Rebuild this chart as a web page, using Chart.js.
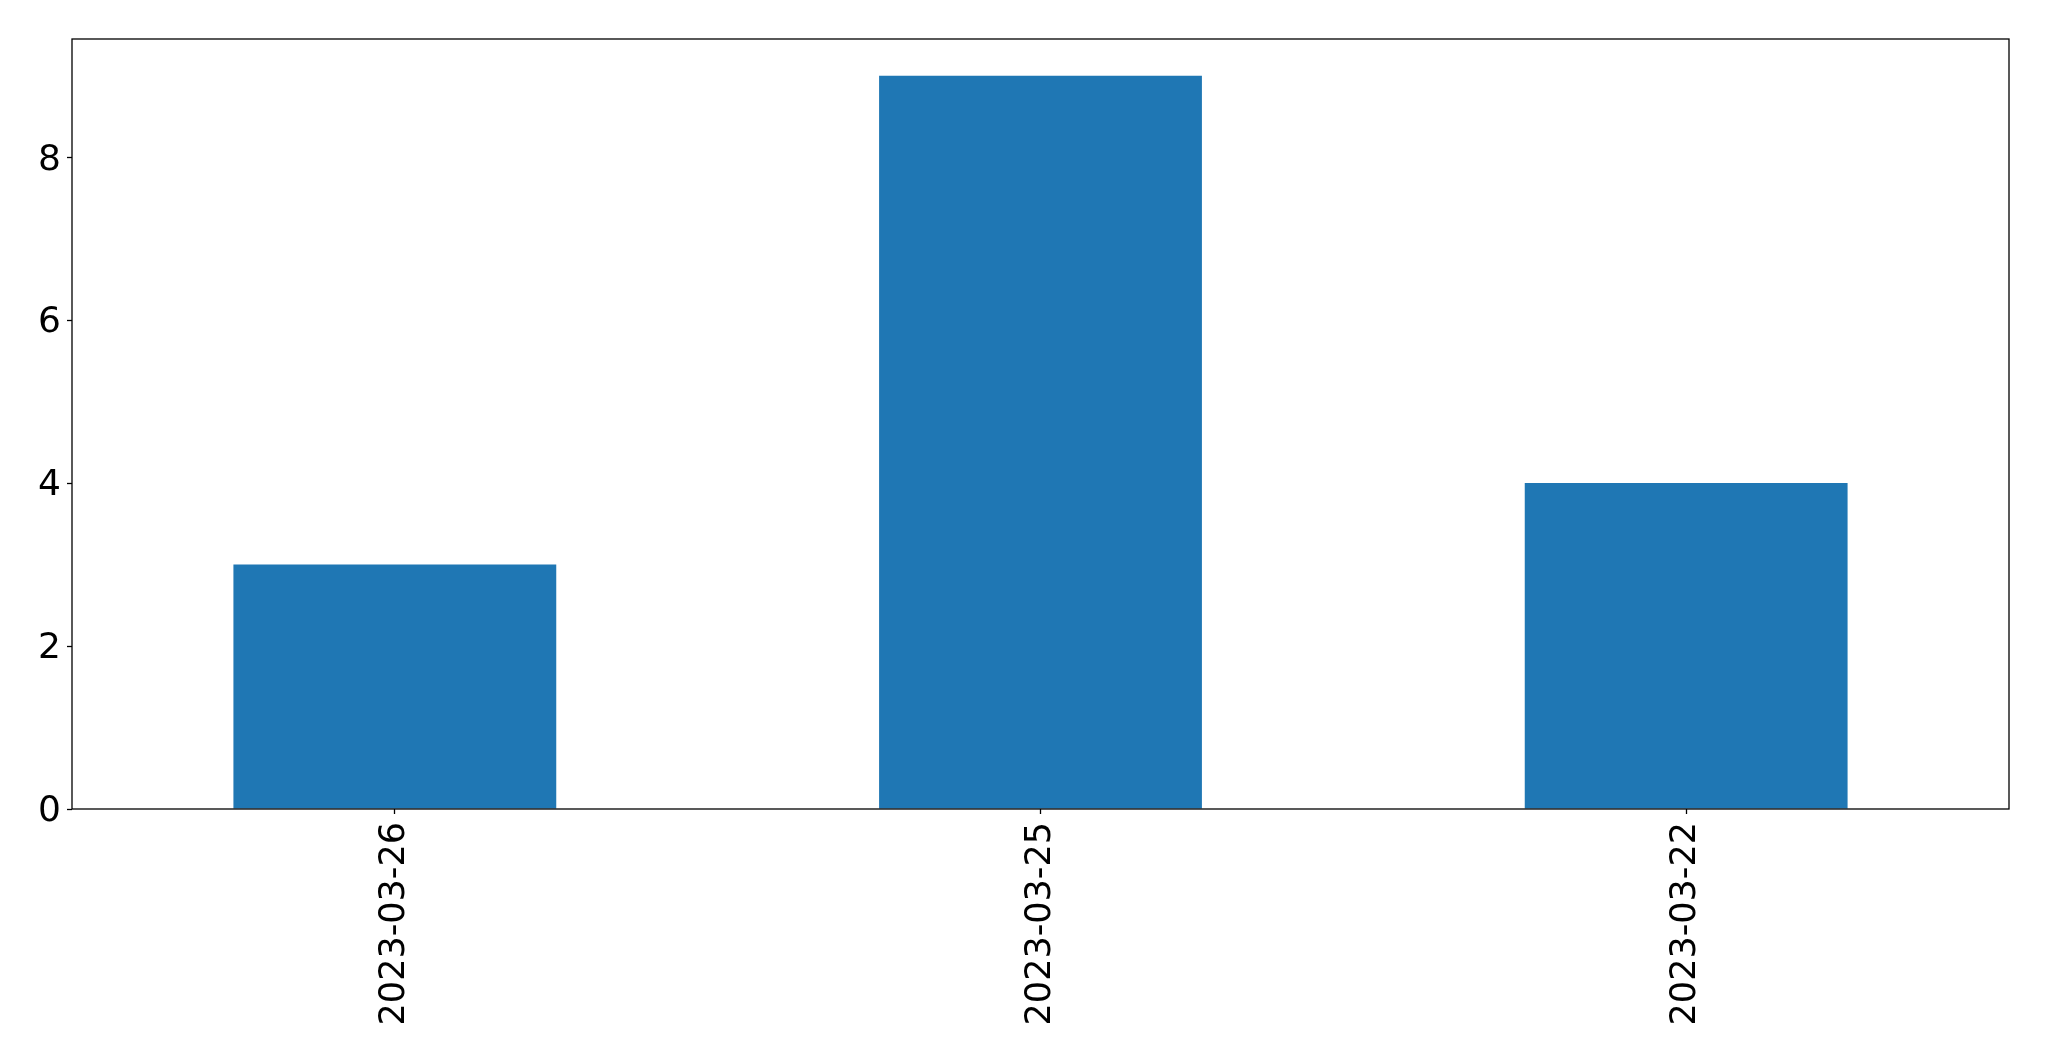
<!DOCTYPE html>
<html>
<head>
<meta charset="utf-8">
<script src="https://cdn.jsdelivr.net/npm/chart.js@4/dist/chart.umd.min.js"></script>
<style>
    html, body { margin: 0; padding: 0; background: #ffffff; }
    #wrap { width: 2049px; height: 1061px; }
</style>
</head>
<body>
<div id="wrap"><canvas id="barChart" width="2049" height="1061"></canvas></div>
<script>
// Chart data
const dates = ['2023-03-26', '2023-03-25', '2023-03-22'];
const counts = [3, 9, 4];
const yTicks = [0, 2, 4, 6, 8];

// Draws the black box around the plot area
const framePlugin = {
    id: 'frame',
    afterDraw(chart) {
        const a = chart.chartArea;
        const ctx = chart.ctx;
        ctx.save();
        ctx.strokeStyle = '#000000';
        ctx.lineWidth = 1.3;
        ctx.strokeRect(a.left, a.top, a.right - a.left, a.bottom - a.top);
        ctx.restore();
    }
};

const ctx = document.getElementById('barChart');

new Chart(ctx, {
    type: 'bar',
    data: {
        labels: dates,
        datasets: [{
            data: counts,
            backgroundColor: '#1f77b4',
            borderWidth: 0,
            categoryPercentage: 1.0,
            barPercentage: 0.5
        }]
    },
    options: {
        responsive: false,
        animation: false,
        layout: {
            padding: { top: 39, right: 40, left: 0, bottom: 0 }
        },
        plugins: {
            legend: { display: false },
            tooltip: { enabled: false }
        },
        scales: {
            x: {
                offset: true,
                grid: {
                    offset: false,
                    drawOnChartArea: false,
                    drawTicks: true,
                    tickLength: 5,
                    tickColor: '#000000',
                    tickWidth: 1.3
                },
                border: { display: false },
                ticks: {
                    color: '#000000',
                    font: { family: 'DejaVu Sans', size: 35 },
                    minRotation: 90,
                    maxRotation: 90,
                    autoSkip: false,
                    padding: 8
                },
                afterFit: function(scale) {
                    scale.height = 252;
                }
            },
            y: {
                min: 0,
                max: 9.45,
                afterBuildTicks: function(scale) {
                    scale.ticks = yTicks.map(v => ({ value: v }));
                },
                grid: {
                    drawOnChartArea: false,
                    drawTicks: true,
                    tickLength: 5,
                    tickColor: '#000000',
                    tickWidth: 1.3
                },
                border: { display: false },
                ticks: {
                    color: '#000000',
                    font: { family: 'DejaVu Sans', size: 36 },
                    padding: 6,
                    labelOffset: 3
                },
                afterFit: function(scale) {
                    scale.width = 72;
                }
            }
        }
    },
    plugins: [framePlugin]
});
</script>
</body>
</html>
